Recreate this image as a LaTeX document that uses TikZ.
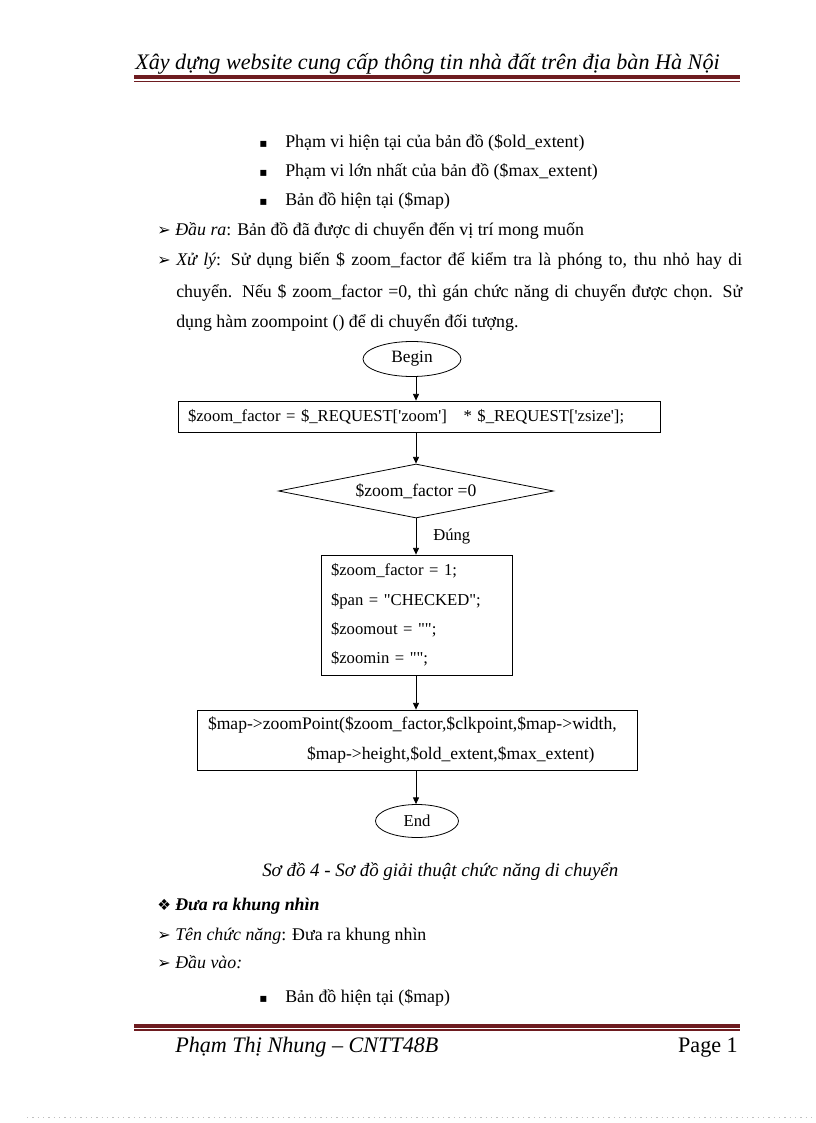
\documentclass[tikz,border=0pt]{standalone}
\usepackage{fontspec}
\setmainfont{Liberation Serif}
\newfontfamily\codefont{Liberation Serif}[Ligatures=Common]
\newfontfamily\symfont{DejaVu Sans}
\usetikzlibrary{shapes.geometric,arrows.meta}
\definecolor{barred}{RGB}{110,28,32}
\tikzset{
  body/.style={anchor=base west, inner sep=0pt, font=\fontsize{13.4}{16}\selectfont},
  fcfont/.style={font=\codefont\fontsize{12.5}{15}\selectfont},
  term/.style={draw, ellipse, line width=0.6pt, inner sep=0pt, fcfont},
  proc/.style={draw, rectangle, line width=0.6pt, inner ysep=0pt, align=left, fcfont},
  dec/.style={draw, diamond, line width=0.6pt, inner sep=0pt, fcfont},
  arr/.style={-{Triangle[length=5pt,width=4.5pt]}, line width=0.6pt},
}
\newcommand{\bul}{{\symfont\fontsize{9}{10}\selectfont ▪}}
\newcommand{\arw}{{\symfont\fontsize{12}{12}\selectfont ➢}}
\newcommand{\dia}{{\symfont\fontsize{11.5}{12}\selectfont ❖}}
\begin{document}
\begin{tikzpicture}[x=0.75pt,y=-0.75pt]
\fill[white] (0,0) rectangle (816,1123);
\useasboundingbox (0,0) rectangle (816,1123);
% header
\node[body, font=\fontsize{16.6}{18}\selectfont\itshape] (head) at (135,70) {Xây dựng website cung cấp thông tin nhà đất trên địa bàn Hà Nội};
\draw[barred, line width=3pt] (134,77.5) -- (740,77.5);
\draw[barred, line width=0.8pt] (134,81.5) -- (740,81.5);
% bullets
\node[body] (b1s) at (259,148) {\bul};
\node[body] (b1) at (285,148) {Phạm vi hiện tại của bản đồ (\$old\_extent)};
\node[body] (b2s) at (259,177) {\bul};
\node[body] (b2) at (285,177) {Phạm vi lớn nhất của bản đồ (\$max\_extent)};
\node[body] (b3s) at (259,206) {\bul};
\node[body] (b3) at (285,206) {Bản đồ hiện tại (\$map)};
\node[body] (outs) at (157,236) {\arw};
\node[body] (out) at (175,236) {\textit{Đầu ra}: Bản đồ đã được di chuyển đến vị trí mong muốn};
% paragraph
\node[body] (procs) at (157,265) {\arw};
\node[body] (proc1) at (176,265) {\makebox[424.5pt][s]{\textit{Xử lý}: Sử dụng biến \$ zoom\_factor để kiểm tra là phóng to, thu nhỏ hay di}};
\node[body] (proc2) at (176,297) {\makebox[424.5pt][s]{chuyển. Nếu \$ zoom\_factor =0, thì gán chức năng di chuyển được chọn. Sử}};
\node[body] (proc3) at (176,327) {dụng hàm zoompoint () để di chuyển đối tượng.};
% flowchart
\node[term, minimum width=73.5pt, minimum height=26.25pt, font=\codefont\fontsize{13}{15}\selectfont] (begin) at (412,359) {Begin};
\node[proc, text width=346.5pt, inner xsep=7.5pt, minimum height=23.25pt] (r1) at (419,416.5)
  {\$zoom\_factor = \$\_REQUEST['zoom']\ \ \ * \$\_REQUEST['zsize'];};
\node[dec, minimum width=206.25pt, minimum height=40.5pt, aspect=5.1, font=\codefont\fontsize{13.2}{15}\selectfont] (dec) at (416,491) {\$zoom\_factor =0};
\node[proc, text width=128.25pt, inner xsep=7.5pt, minimum height=90pt, font=\codefont\fontsize{12.5}{22}\selectfont] (bx2) at (416.5,615)
  {\$zoom\_factor = 1;\\ \$pan = "CHECKED";\\ \$zoomout = "";\\ \$zoomin = "";};
\node[proc, text width=313.5pt, inner xsep=8.25pt, minimum height=45pt, font=\codefont\fontsize{13.2}{22.5}\selectfont] (bx3) at (417,740)
  {\$map->zoomPoint(\$zoom\_factor,\$clkpoint,\$map->width,\\ \hspace*{74.25pt}\$map->height,\$old\_extent,\$max\_extent)};
\node[term, minimum width=62.25pt, minimum height=24.75pt] (fin) at (417,821) {End};
\node[anchor=base west, inner sep=0pt, font=\fontsize{12.5}{15}\selectfont] (yes) at (433,540) {Đúng};
\draw[arr] (begin.south -| dec.north) -- (r1.north -| dec.north);
\draw[arr] (r1.south -| dec.north) -- (dec.north);
\draw[arr] (dec.south) -- (bx2.north -| dec.south);
\draw[arr] (bx2.south -| dec.south) -- (bx3.north -| dec.south);
\draw[arr] (bx3.south -| dec.south) -- (fin.north -| dec.south);
% caption and following text
\node[body, font=\fontsize{14.2}{16}\selectfont\itshape] (cap) at (262,876) {Sơ đồ 4 - Sơ đồ giải thuật chức năng di chuyển};
\node[body] (d1s) at (157,910) {\dia};
\node[body, font=\fontsize{13.4}{16}\selectfont\bfseries\itshape] (d1) at (175,910) {Đưa ra khung nhìn};
\node[body] (t1s) at (157,940) {\arw};
\node[body] (t1) at (175,940) {\textit{Tên chức năng}: Đưa ra khung nhìn};
\node[body] (t2s) at (157,968) {\arw};
\node[body] (t2) at (175,968) {\textit{Đầu vào:}};
\node[body] (b4s) at (259,1002) {\bul};
\node[body] (b4) at (285,1002) {Bản đồ hiện tại (\$map)};
% footer
\draw[barred, line width=3pt] (134,1026) -- (740,1026);
\draw[barred, line width=0.8pt] (134,1030) -- (740,1030);
\node[body, font=\fontsize{16.6}{18}\selectfont\itshape] (foot) at (175,1052) {Phạm Thị Nhung – CNTT48B};
\node[anchor=base east, inner sep=0pt, font=\fontsize{16.6}{18}\selectfont] (page) at (738,1052) {Page 1};
\draw[gray!50, line width=0.6pt, dash pattern=on 1pt off 3pt] (27,1117) -- (812,1117);
\end{tikzpicture}
\end{document}
